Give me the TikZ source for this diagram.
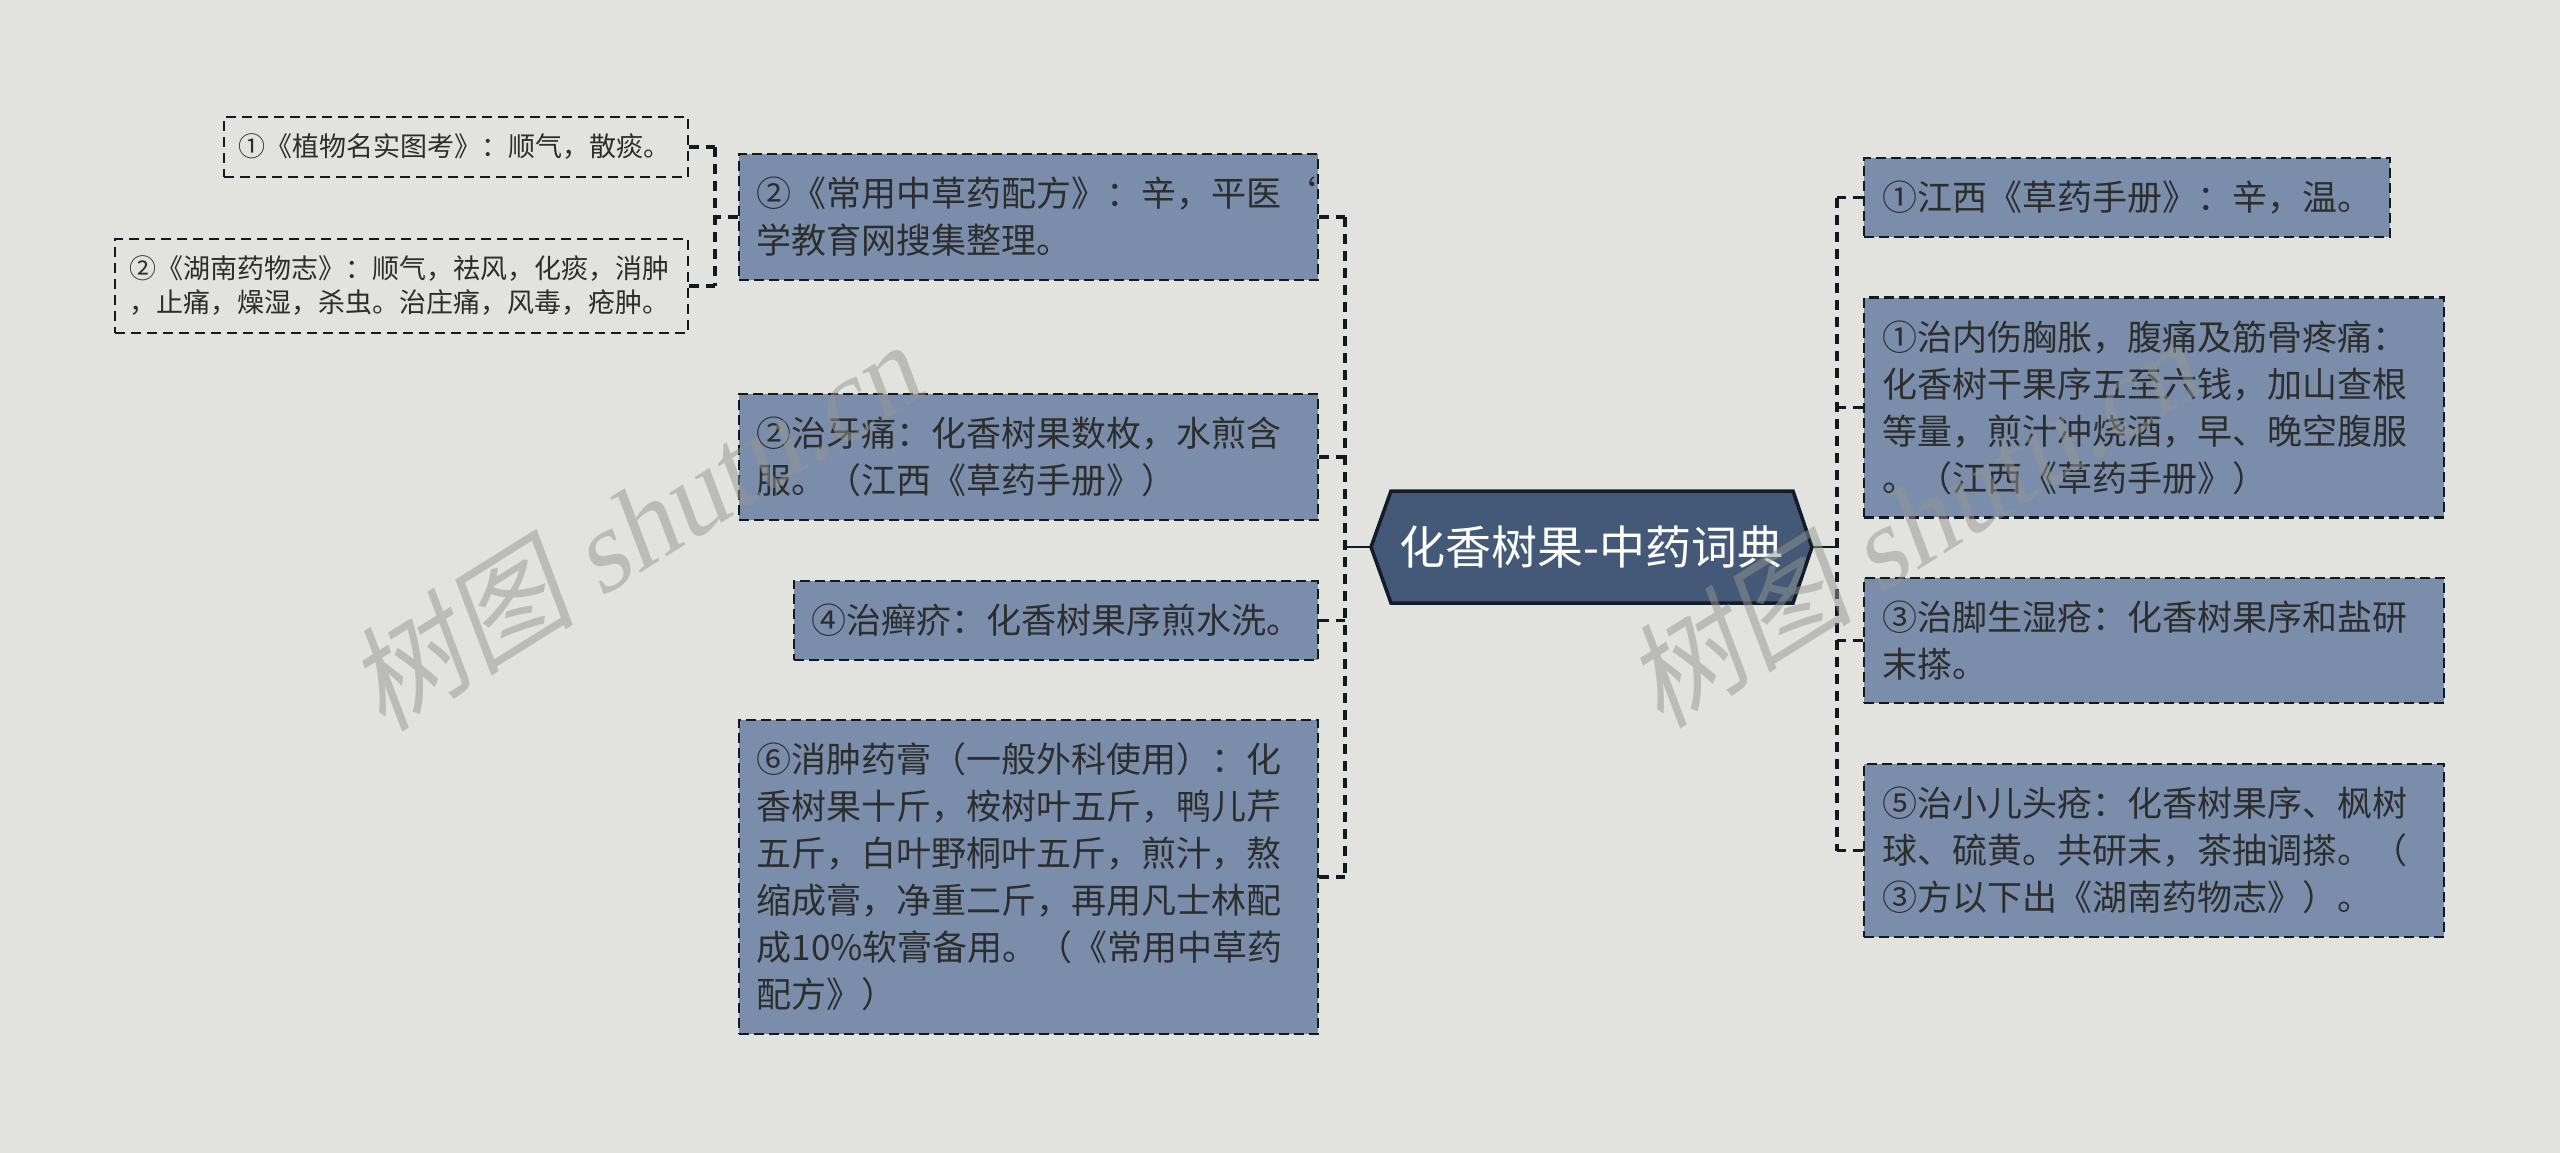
\documentclass[tikz,border=0pt]{standalone}
\usepackage{fontspec}
\setmainfont{Noto Sans CJK SC}
\newfontfamily\wmfont{Liberation Serif}
\usetikzlibrary{calc}
\definecolor{bgcol}{RGB}{226,227,223}
\definecolor{leaffill}{RGB}{122,142,171}
\definecolor{hubfill}{RGB}{67,89,119}
\definecolor{hubline}{RGB}{20,28,42}
\definecolor{linecol}{RGB}{20,24,32}
\definecolor{inkcol}{RGB}{45,45,45}
\definecolor{wmcol}{RGB}{150,150,146}

\begin{document}
\begin{tikzpicture}[x=1pt,y=-1pt,
		leaf/.style={draw=linecol,line width=2.4pt,dash pattern=on 10pt off 5pt,fill=leaffill,text=inkcol,align=left,inner xsep=18pt,inner ysep=23pt,font=\fontsize{35}{47}\selectfont},
		twig/.style={draw=linecol,line width=2pt,dash pattern=on 10pt off 6pt,text=inkcol,align=left,inner xsep=14pt,inner ysep=17pt,font=\fontsize{27}{34}\selectfont},
		link/.style={draw=linecol,line width=3.2pt,dash pattern=on 10pt off 7pt},
		stem/.style={draw=linecol,line width=2.6pt},
		wmark/.style={text=wmcol,opacity=0.5,rotate=32,xslant=0.2,font=\fontsize{115}{115}\selectfont}]
		\fill[bgcol] (0,0) rectangle (2560,1153);
		\useasboundingbox (0,0) rectangle (2560,1153);
		%
		\coordinate (hubL) at (1371,547);
		\coordinate (hubR) at (1812,547);
		\filldraw[fill=hubfill,draw=hubline,line width=3.5pt] (1391,491) -- (1793,491) -- (hubR) -- (1793,603) -- (1391,603) -- (hubL) -- cycle;
		\node[text=white,font=\fontsize{46}{50}\selectfont] (hub) at ($(hubL)!0.5!(hubR)$) {化香树果-中药词典};
		%
		\node[leaf,text width=543pt,anchor=east] (ly1) at (1319,217) {②《常用中草药配方》：辛，平医`\\学教育网搜集整理。};
		\node[leaf,text width=543pt,anchor=east] (ly2) at (1319,457) {②治牙痛：化香树果数枚，水煎含\\服。（江西《草药手册》）};
		\node[leaf,text width=488pt,anchor=east] (ly3) at (1319,620.5) {④治癣疥：化香树果序煎水洗。};
		\node[leaf,text width=543pt,anchor=east] (ly4) at (1319,877) {⑥消肿药膏（一般外科使用）：化\\香树果十斤，桉树叶五斤，鸭儿芹\\五斤，白叶野桐叶五斤，煎汁，熬\\缩成膏，净重二斤，再用凡士林配\\成10\%软膏备用。（《常用中草药\\配方》）};
		%
		\node[leaf,text width=490pt,anchor=west] (ry1) at (1863,197.5) {①江西《草药手册》：辛，温。};
		\node[leaf,text width=544pt,anchor=west] (ry2) at (1863,407.5) {①治内伤胸胀，腹痛及筋骨疼痛：\\化香树干果序五至六钱，加山查根\\等量，煎汁冲烧酒，早、晚空腹服\\。（江西《草药手册》）};
		\node[leaf,text width=544pt,anchor=west] (ry3) at (1863,640.5) {③治脚生湿疮：化香树果序和盐研\\末搽。};
		\node[leaf,text width=544pt,anchor=west] (ry4) at (1863,850.5) {⑤治小儿头疮：化香树果序、枫树\\球、硫黄。共研末，茶抽调搽。（\\③方以下出《湖南药物志》）。};
		%
		\node[twig,text width=436pt,anchor=east] (sy1) at (689,147) {①《植物名实图考》：顺气，散痰。};
		\node[twig,text width=545pt,anchor=east] (sy2) at (689,286) {②《湖南药物志》：顺气，祛风，化痰，消肿\\，止痛，燥湿，杀虫。治庄痛，风毒，疮肿。};
		%
		\coordinate (jl) at (1345,547);
		\coordinate (jr) at (1837,547);
		\coordinate (js) at (715,217);
		\draw[stem] (hubL) -- (jl);
		\draw[link] (jl |- ly1.east) -- (jl |- ly4.east);
		\foreach \n in {ly1,ly2,ly3,ly4}
			\draw[link] (\n.east) -- (jl |- \n.east);
		\draw[stem] (hubR) -- (jr);
		\draw[link] (jr |- ry1.west) -- (jr |- ry4.west);
		\foreach \n in {ry1,ry2,ry3,ry4}
			\draw[link] (\n.west) -- (jr |- \n.west);
		\draw[link] (ly1.west) -- (js);
		\draw[link] (js |- sy1.east) -- (js |- sy2.east);
		\foreach \n in {sy1,sy2}
			\draw[link] (\n.east) -- (js |- \n.east);
		%
		\node[wmark] (wm1) at (640,522) {树图 {\wmfont shutu.cn}};
		\node[wmark] (wm2) at (1918,519) {树图 {\wmfont shutu.cn}};
	\end{tikzpicture}
\end{document}
